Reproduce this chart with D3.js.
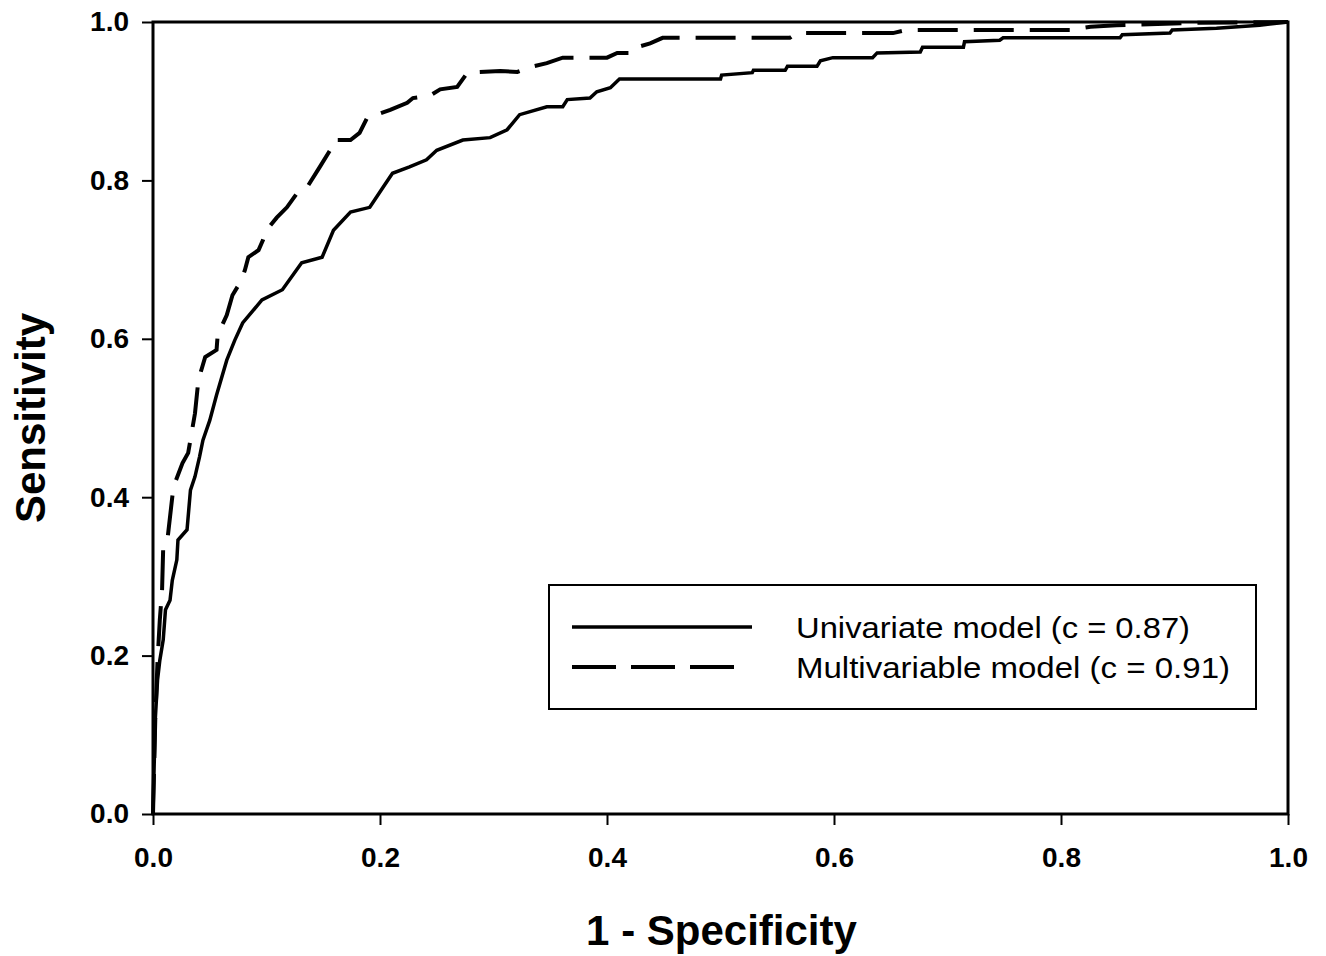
<!DOCTYPE html>
<html>
<head>
<meta charset="utf-8">
<script src="https://cdn.jsdelivr.net/npm/d3@7"></script>
<style>
  html, body { margin: 0; padding: 0; background: #fff; }
  svg { display: block; }
</style>
</head>
<body>
<svg id="chart" width="1326" height="956"></svg>
<script>
// ---- Data ----
const xTicks = [0, 0.2, 0.4, 0.6, 0.8, 1.0];
const yTicks = [0, 0.2, 0.4, 0.6, 0.8, 1.0];
const xLabel = "1 - Specificity";
const yLabel = "Sensitivity";
const seriesNames = ["Univariate model (c = 0.87)", "Multivariable model (c = 0.91)"];

// Univariate model ROC: [1 - specificity, sensitivity]
const univariateFpr = [0, 0.002, 0.004, 0.006, 0.009, 0.011, 0.015, 0.017, 0.021, 0.022, 0.030, 0.033, 0.037, 0.041, 0.044, 0.050, 0.056, 0.065, 0.072, 0.079, 0.096, 0.114, 0.131, 0.149, 0.159, 0.174, 0.191, 0.203, 0.211, 0.226, 0.241, 0.250, 0.273, 0.297, 0.312, 0.323, 0.347, 0.361, 0.365, 0.385, 0.391, 0.403, 0.411, 0.500, 0.501, 0.528, 0.529, 0.557, 0.559, 0.585, 0.588, 0.599, 0.634, 0.638, 0.676, 0.678, 0.714, 0.715, 0.746, 0.749, 0.852, 0.854, 0.896, 0.898, 0.937, 0.975, 1.0];
const univariateTpr = [0, 0.119, 0.169, 0.194, 0.220, 0.258, 0.270, 0.295, 0.321, 0.346, 0.359, 0.409, 0.426, 0.451, 0.472, 0.497, 0.529, 0.573, 0.598, 0.620, 0.649, 0.662, 0.696, 0.703, 0.737, 0.760, 0.766, 0.792, 0.809, 0.817, 0.826, 0.838, 0.851, 0.854, 0.864, 0.883, 0.893, 0.893, 0.902, 0.904, 0.912, 0.917, 0.928, 0.928, 0.933, 0.936, 0.939, 0.939, 0.944, 0.944, 0.951, 0.955, 0.955, 0.961, 0.962, 0.968, 0.968, 0.975, 0.977, 0.980, 0.980, 0.984, 0.986, 0.990, 0.992, 0.996, 1.0];

// Multivariable model ROC
const multivariableFpr = [0, 0.002, 0.004, 0.006, 0.008, 0.009, 0.013, 0.018, 0.026, 0.031, 0.037, 0.040, 0.046, 0.056, 0.057, 0.065, 0.070, 0.078, 0.081, 0.084, 0.093, 0.097, 0.100, 0.109, 0.118, 0.127, 0.136, 0.147, 0.156, 0.159, 0.174, 0.182, 0.189, 0.197, 0.209, 0.224, 0.229, 0.244, 0.253, 0.268, 0.277, 0.306, 0.321, 0.335, 0.347, 0.361, 0.400, 0.409, 0.423, 0.426, 0.438, 0.449, 0.561, 0.567, 0.652, 0.664, 0.808, 0.826, 0.849, 0.922, 1.0];
const multivariableTpr = [0, 0.119, 0.194, 0.245, 0.283, 0.337, 0.350, 0.413, 0.443, 0.456, 0.506, 0.548, 0.577, 0.586, 0.605, 0.630, 0.655, 0.674, 0.687, 0.703, 0.712, 0.725, 0.737, 0.753, 0.766, 0.784, 0.792, 0.817, 0.838, 0.851, 0.851, 0.860, 0.880, 0.883, 0.889, 0.898, 0.904, 0.907, 0.915, 0.918, 0.936, 0.938, 0.937, 0.944, 0.948, 0.955, 0.955, 0.961, 0.961, 0.968, 0.973, 0.980, 0.980, 0.986, 0.986, 0.990, 0.990, 0.994, 0.996, 0.999, 1.0];

// ---- Layout ----
const svg = d3.select("#chart");
const plot = { left: 153, right: 1288, top: 22, bottom: 814 };
const x = d3.scaleLinear().domain([0, 1]).range([plot.left, plot.right]);
const y = d3.scaleLinear().domain([0, 1]).range([plot.bottom, plot.top]);
const font = "Arial, 'Liberation Sans', Helvetica, sans-serif";
const dashPattern = "40,16";

// Curves
const line = d3.line().x(d => x(d[0])).y(d => y(d[1]));
const uni = univariateFpr.map((v, i) => [v, univariateTpr[i]]);
const multi = multivariableFpr.map((v, i) => [v, multivariableTpr[i]]);

svg.append("path").datum(uni)
  .attr("d", line).attr("fill", "none").attr("stroke", "#000")
  .attr("stroke-width", 3.5).attr("stroke-linejoin", "miter");
svg.append("path").datum(multi)
  .attr("d", line).attr("fill", "none").attr("stroke", "#000")
  .attr("stroke-width", 4).attr("stroke-dasharray", dashPattern);

// Frame
svg.append("rect")
  .attr("x", plot.left).attr("y", plot.top)
  .attr("width", plot.right - plot.left).attr("height", plot.bottom - plot.top)
  .attr("fill", "none").attr("stroke", "#000").attr("stroke-width", 3);

// Axes
const xAxis = d3.axisBottom(x).tickValues(xTicks).tickFormat(d3.format(".1f")).tickSize(11).tickPadding(22);
const yAxis = d3.axisLeft(y).tickValues(yTicks).tickFormat(d3.format(".1f")).tickSize(11).tickPadding(13);

const gx = svg.append("g").attr("transform", `translate(0,${plot.bottom})`).call(xAxis);
const gy = svg.append("g").attr("transform", `translate(${plot.left},0)`).call(yAxis);
[gx, gy].forEach(g => {
  g.select(".domain").remove();
  g.selectAll(".tick line").attr("stroke", "#000").attr("stroke-width", 2);
  g.selectAll(".tick text")
    .attr("fill", "#000").style("font-family", font)
    .style("font-weight", "bold").style("font-size", "28px");
});

// Axis titles
svg.append("text")
  .attr("x", (plot.left + plot.right) / 2 + 1).attr("y", 945)
  .attr("text-anchor", "middle")
  .style("font-family", font).style("font-weight", "bold").style("font-size", "42px")
  .text(xLabel);
svg.append("text")
  .attr("transform", `translate(45,${(plot.top + plot.bottom) / 2}) rotate(-90)`)
  .attr("text-anchor", "middle")
  .style("font-family", font).style("font-weight", "bold").style("font-size", "42px")
  .text(yLabel);

// Legend
const legend = svg.append("g");
legend.append("rect")
  .attr("x", 549).attr("y", 585).attr("width", 707).attr("height", 124)
  .attr("fill", "#fff").attr("stroke", "#000").attr("stroke-width", 2);
const legendRows = [
  { name: seriesNames[0], dash: null, y: 627, w: 394 },
  { name: seriesNames[1], dash: dashPattern, y: 667, w: 434 }
];
legendRows.forEach(r => {
  legend.append("line")
    .attr("x1", 572).attr("x2", r.dash ? 736 : 752)
    .attr("y1", r.y).attr("y2", r.y)
    .attr("stroke", "#000").attr("stroke-width", r.dash ? 4 : 3.5)
    .attr("stroke-dasharray", r.dash ? "44,15" : null);
  legend.append("text")
    .attr("x", 796).attr("y", r.y + 11)
    .attr("textLength", r.w).attr("lengthAdjust", "spacingAndGlyphs")
    .style("font-family", font).style("font-size", "30px")
    .text(r.name);
});
</script>
</body>
</html>
